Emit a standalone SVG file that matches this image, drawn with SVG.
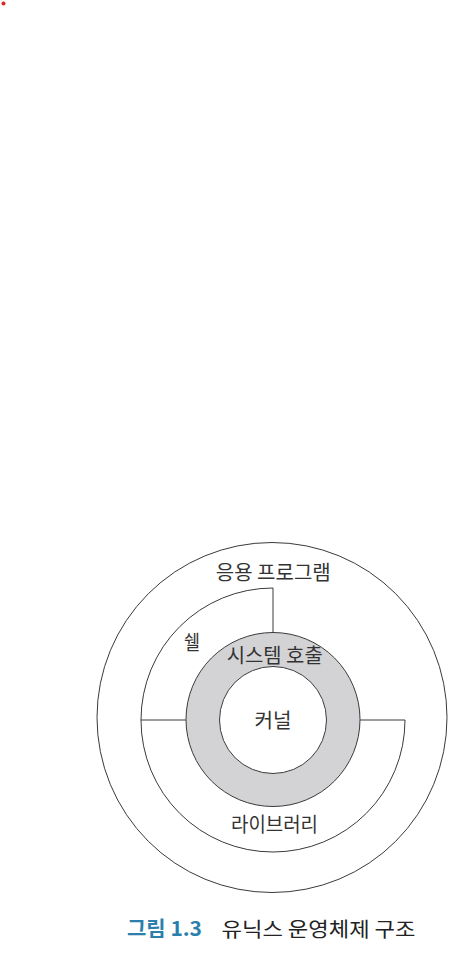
<svg xmlns="http://www.w3.org/2000/svg" width="453" height="955" viewBox="0 0 453 955">
<style>
.ln{fill:none;stroke:#3a3a3a;stroke-width:1}
.lbl{font-family:"Noto Sans CJK KR","Noto Sans",sans-serif;font-size:20px;fill:#333;text-anchor:middle}
.cap{font-family:"Noto Sans CJK KR","Noto Sans",sans-serif;font-size:20px;fill:#222}
.capn{font-family:"Noto Sans CJK KR","Liberation Sans",sans-serif;font-size:20px;font-weight:bold;fill:#2b7fab}
</style>
<rect width="453" height="955" fill="#fff"/>
<circle cx="3.5" cy="3.5" r="2" fill="#e02525"/>
<g id="application">
<circle class="ln" cx="272" cy="717.5" r="175"/>
<text class="lbl" x="273.3" y="579.5" textLength="115" lengthAdjust="spacingAndGlyphs">응용 프로그램</text>
</g>
<g id="shell-library">
<path class="ln" d="M273,588 A132,132 0 1 0 405,720"/>
<text class="lbl" x="192" y="649.5" textLength="16" lengthAdjust="spacingAndGlyphs">쉘</text>
<text class="lbl" x="274.5" y="832" textLength="87" lengthAdjust="spacingAndGlyphs">라이브러리</text>
</g>
<g id="system-call">
<circle cx="273" cy="719.5" r="87" fill="#d3d3d5" stroke="#3a3a3a" stroke-width="1"/>
<text class="lbl" x="274.7" y="663" textLength="96" lengthAdjust="spacingAndGlyphs">시스템 호출</text>
</g>
<g id="kernel">
<circle cx="273" cy="720" r="53.5" fill="#fff" stroke="#3a3a3a" stroke-width="1"/>
<text class="lbl" x="273" y="728" textLength="37" lengthAdjust="spacingAndGlyphs">커널</text>
</g>
<g id="connectors">
<path class="ln" d="M273,588 V632.5 M141,720 H186 M360,720 H405"/>
</g>
<g id="caption">
<text class="capn" x="127" y="936" textLength="75" lengthAdjust="spacingAndGlyphs">그림 1.3</text>
<text class="cap" x="221.5" y="936.5" textLength="194" lengthAdjust="spacingAndGlyphs">유닉스 운영체제 구조</text>
</g>
</svg>
